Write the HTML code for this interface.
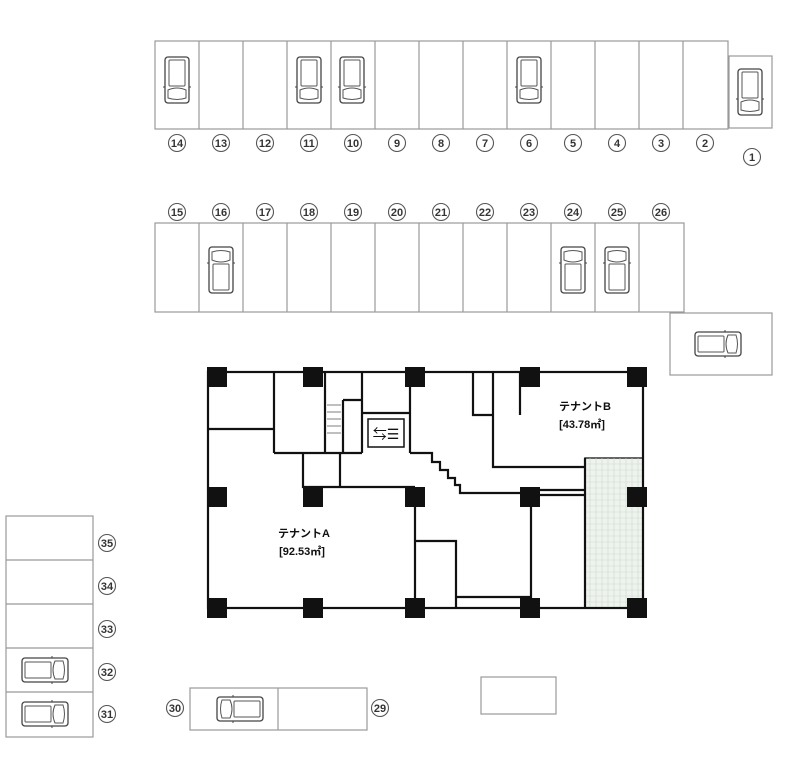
<!DOCTYPE html>
<html><head><meta charset="utf-8"><style>
html,body{margin:0;padding:0;background:#fff;}
svg{display:block;}
text{font-family:"Liberation Sans","Noto Sans CJK JP",sans-serif;}
.n{font-size:11px;font-weight:bold;text-anchor:middle;fill:#333;}
</style></head><body>
<svg width="800" height="768" viewBox="0 0 800 768" xmlns="http://www.w3.org/2000/svg">
<defs>
<g id="carV">
<rect x="-12" y="-23" width="24" height="46" rx="3" fill="#fff" stroke="#444" stroke-width="1.3"/>
<rect x="-8" y="-20" width="16" height="26" rx="1" fill="none" stroke="#555" stroke-width="1"/>
<path d="M-9 10 Q0 6 9 10 L9 18 Q0 21 -9 18 Z" fill="none" stroke="#555" stroke-width="1"/>
<line x1="-14" y1="7" x2="-12" y2="7" stroke="#444"/><line x1="12" y1="7" x2="14" y2="7" stroke="#444"/>
</g>
<g id="circ"><circle r="8.5" fill="#fff" stroke="#555" stroke-width="1.1"/></g>
</defs>
<g fill="none" stroke="#999" stroke-width="1.2">
<rect x="155" y="41" width="573" height="88"/>
<rect x="729" y="56" width="43" height="72"/>
<rect x="155" y="223" width="529" height="89"/>
<rect x="670" y="313" width="102" height="62"/>
<rect x="6" y="516" width="87" height="221"/>
<line x1="6" y1="560" x2="93" y2="560"/><line x1="6" y1="604" x2="93" y2="604"/><line x1="6" y1="648" x2="93" y2="648"/><line x1="6" y1="692" x2="93" y2="692"/>
<rect x="190" y="688" width="177" height="42"/><line x1="278" y1="688" x2="278" y2="730"/>
<rect x="481" y="677" width="75" height="37"/>
</g>
<g stroke="#999" stroke-width="1.2">
<line x1="199" y1="41" x2="199" y2="129"/><line x1="243" y1="41" x2="243" y2="129"/><line x1="287" y1="41" x2="287" y2="129"/><line x1="331" y1="41" x2="331" y2="129"/><line x1="375" y1="41" x2="375" y2="129"/><line x1="419" y1="41" x2="419" y2="129"/><line x1="463" y1="41" x2="463" y2="129"/><line x1="507" y1="41" x2="507" y2="129"/><line x1="551" y1="41" x2="551" y2="129"/><line x1="595" y1="41" x2="595" y2="129"/><line x1="639" y1="41" x2="639" y2="129"/><line x1="683" y1="41" x2="683" y2="129"/>
<line x1="199" y1="223" x2="199" y2="312"/><line x1="243" y1="223" x2="243" y2="312"/><line x1="287" y1="223" x2="287" y2="312"/><line x1="331" y1="223" x2="331" y2="312"/><line x1="375" y1="223" x2="375" y2="312"/><line x1="419" y1="223" x2="419" y2="312"/><line x1="463" y1="223" x2="463" y2="312"/><line x1="507" y1="223" x2="507" y2="312"/><line x1="551" y1="223" x2="551" y2="312"/><line x1="595" y1="223" x2="595" y2="312"/><line x1="639" y1="223" x2="639" y2="312"/>
</g>
<use href="#carV" transform="translate(177,80)"/>
<use href="#carV" transform="translate(309,80)"/>
<use href="#carV" transform="translate(352,80)"/>
<use href="#carV" transform="translate(529,80)"/>
<use href="#carV" transform="translate(750,92)"/>
<use href="#carV" transform="translate(221,270) rotate(180)"/>
<use href="#carV" transform="translate(573,270) rotate(180)"/>
<use href="#carV" transform="translate(617,270) rotate(180)"/>
<use href="#carV" transform="translate(718,344) rotate(-90)"/>
<use href="#carV" transform="translate(45,670) rotate(-90)"/>
<use href="#carV" transform="translate(45,714) rotate(-90)"/>
<use href="#carV" transform="translate(240,709) rotate(90)"/>
<g>
<use href="#circ" x="177" y="143"/><text class="n" x="177" y="147">14</text>
<use href="#circ" x="221" y="143"/><text class="n" x="221" y="147">13</text>
<use href="#circ" x="265" y="143"/><text class="n" x="265" y="147">12</text>
<use href="#circ" x="309" y="143"/><text class="n" x="309" y="147">11</text>
<use href="#circ" x="353" y="143"/><text class="n" x="353" y="147">10</text>
<use href="#circ" x="397" y="143"/><text class="n" x="397" y="147">9</text>
<use href="#circ" x="441" y="143"/><text class="n" x="441" y="147">8</text>
<use href="#circ" x="485" y="143"/><text class="n" x="485" y="147">7</text>
<use href="#circ" x="529" y="143"/><text class="n" x="529" y="147">6</text>
<use href="#circ" x="573" y="143"/><text class="n" x="573" y="147">5</text>
<use href="#circ" x="617" y="143"/><text class="n" x="617" y="147">4</text>
<use href="#circ" x="661" y="143"/><text class="n" x="661" y="147">3</text>
<use href="#circ" x="705" y="143"/><text class="n" x="705" y="147">2</text>
<use href="#circ" x="752" y="157"/><text class="n" x="752" y="161">1</text>
<use href="#circ" x="177" y="212"/><text class="n" x="177" y="216">15</text>
<use href="#circ" x="221" y="212"/><text class="n" x="221" y="216">16</text>
<use href="#circ" x="265" y="212"/><text class="n" x="265" y="216">17</text>
<use href="#circ" x="309" y="212"/><text class="n" x="309" y="216">18</text>
<use href="#circ" x="353" y="212"/><text class="n" x="353" y="216">19</text>
<use href="#circ" x="397" y="212"/><text class="n" x="397" y="216">20</text>
<use href="#circ" x="441" y="212"/><text class="n" x="441" y="216">21</text>
<use href="#circ" x="485" y="212"/><text class="n" x="485" y="216">22</text>
<use href="#circ" x="529" y="212"/><text class="n" x="529" y="216">23</text>
<use href="#circ" x="573" y="212"/><text class="n" x="573" y="216">24</text>
<use href="#circ" x="617" y="212"/><text class="n" x="617" y="216">25</text>
<use href="#circ" x="661" y="212"/><text class="n" x="661" y="216">26</text>
<use href="#circ" x="107" y="543"/><text class="n" x="107" y="547">35</text>
<use href="#circ" x="107" y="586"/><text class="n" x="107" y="590">34</text>
<use href="#circ" x="107" y="629"/><text class="n" x="107" y="633">33</text>
<use href="#circ" x="107" y="672"/><text class="n" x="107" y="676">32</text>
<use href="#circ" x="107" y="714"/><text class="n" x="107" y="718">31</text>
<use href="#circ" x="175" y="708"/><text class="n" x="175" y="712">30</text>
<use href="#circ" x="380" y="708"/><text class="n" x="380" y="712">29</text>
</g>
<rect x="585" y="458" width="58" height="150" fill="#eef3ee" stroke="#333" stroke-width="1.5"/>
<g stroke="#cfd8cf" stroke-width="0.6">
<path d="M590 458V608M596 458V608M602 458V608M608 458V608M614 458V608M620 458V608M626 458V608M632 458V608M638 458V608"/>
<path d="M585 464H643M585 470H643M585 476H643M585 482H643M585 488H643M585 494H643M585 500H643M585 506H643M585 512H643M585 518H643M585 524H643M585 530H643M585 536H643M585 542H643M585 548H643M585 554H643M585 560H643M585 566H643M585 572H643M585 578H643M585 584H643M585 590H643M585 596H643M585 602H643"/>
</g>
<g fill="none" stroke="#111" stroke-width="2.2">
<rect x="208" y="372" width="435" height="236"/>
<path d="M274 372V453M208 429H274M274 453H362M325 372V453M343 400V453M343 400H362M362 372V453M362 413H410M410 372V453M303 453V487H340V453M303 487H415M410 453H432V462H440V470H448V478H455V485H460V493H530M493 372V467H585M473 372V415H493M520 372V415M415 497V608M531 497V608M415 541H456V608M456 597H530M540 490H585M540 495H585M585 458V608"/>
</g>
<rect x="368" y="419" width="36" height="28" fill="#fff" stroke="#111" stroke-width="1.5"/>
<text x="386" y="439" font-size="14" text-anchor="middle" fill="#111">⇆☰</text>
<path d="M327 405H341M327 412H341M327 419H341M327 426H341M327 433H341" stroke="#555" stroke-width="0.8"/>
<g fill="#111">
<rect x="207" y="367" width="20" height="20"/><rect x="303" y="367" width="20" height="20"/><rect x="405" y="367" width="20" height="20"/><rect x="520" y="367" width="20" height="20"/><rect x="627" y="367" width="20" height="20"/>
<rect x="207" y="487" width="20" height="20"/><rect x="303" y="487" width="20" height="20"/><rect x="405" y="487" width="20" height="20"/><rect x="520" y="487" width="20" height="20"/><rect x="627" y="487" width="20" height="20"/>
<rect x="207" y="598" width="20" height="20"/><rect x="303" y="598" width="20" height="20"/><rect x="405" y="598" width="20" height="20"/><rect x="520" y="598" width="20" height="20"/><rect x="627" y="598" width="20" height="20"/>
</g>
<text x="585" y="410" font-size="11" font-weight="bold" text-anchor="middle" fill="#111">テナントB</text>
<text x="582" y="428" font-size="11" font-weight="bold" text-anchor="middle" fill="#111">[43.78㎡]</text>
<text x="304" y="537" font-size="11" font-weight="bold" text-anchor="middle" fill="#111">テナントA</text>
<text x="302" y="555" font-size="11" font-weight="bold" text-anchor="middle" fill="#111">[92.53㎡]</text>
</svg>
</body></html>
